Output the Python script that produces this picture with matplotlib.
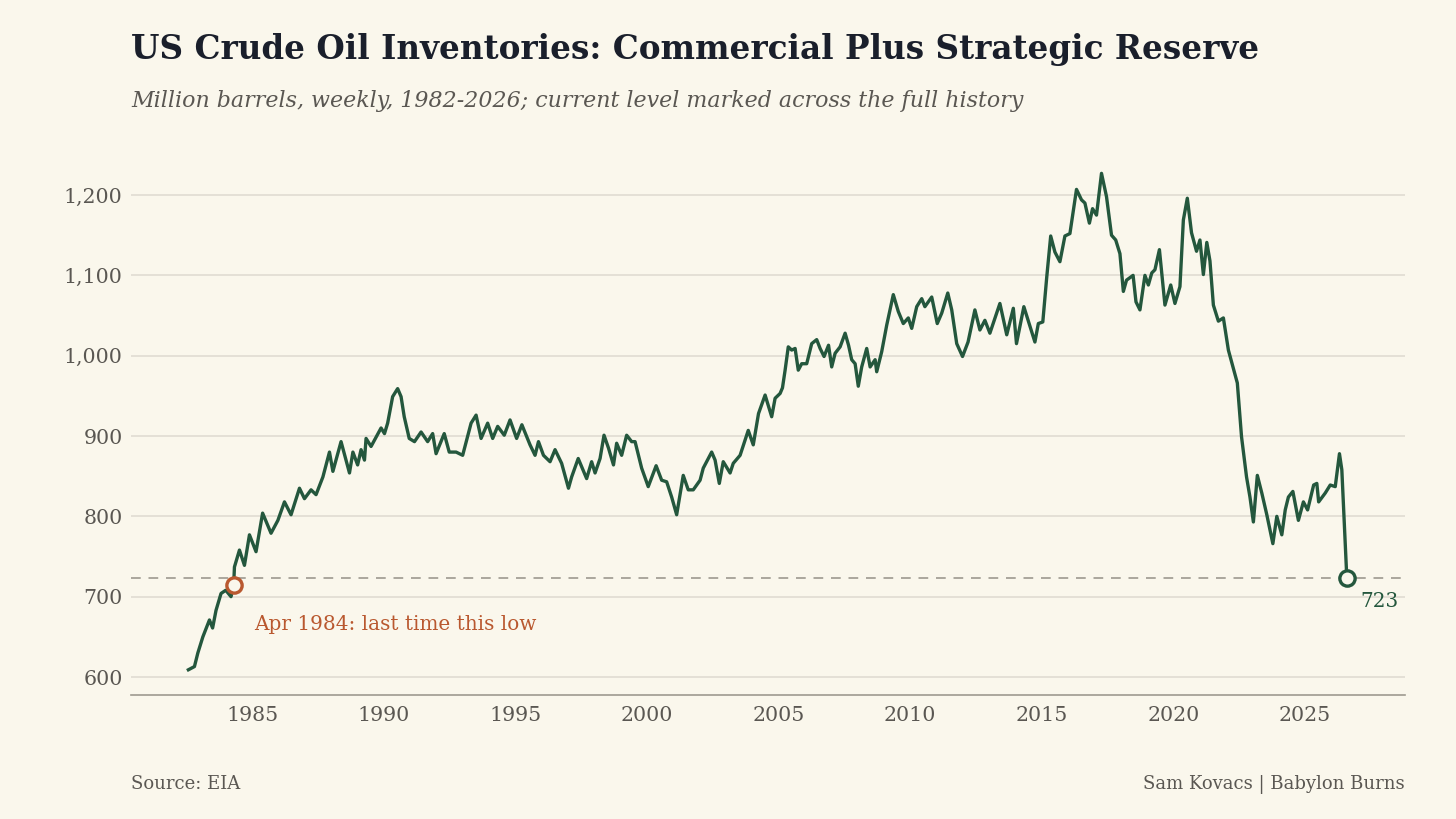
import matplotlib
matplotlib.use("Agg")
import matplotlib.pyplot as plt
import numpy as np

# ---------------- data ----------------
years = [
    1982.58, 1982.81, 1982.94, 1983.13, 1983.38, 1983.50, 1983.63, 1983.82, 1984.00, 1984.20,
    1984.30, 1984.33, 1984.52, 1984.71, 1984.90, 1985.15, 1985.40, 1985.72, 1985.98, 1986.23,
    1986.48, 1986.80, 1986.99, 1987.24, 1987.43, 1987.69, 1987.94, 1988.07, 1988.38, 1988.70,
    1988.83, 1989.01, 1989.14, 1989.27, 1989.33, 1989.52, 1989.90, 1990.03, 1990.15, 1990.34,
    1990.53, 1990.66, 1990.78, 1990.97, 1991.17, 1991.42, 1991.67, 1991.86, 1991.99, 1992.30,
    1992.49, 1992.75, 1993.00, 1993.32, 1993.51, 1993.70, 1993.95, 1994.14, 1994.33, 1994.58,
    1994.80, 1995.05, 1995.25, 1995.56, 1995.75, 1995.88, 1996.07, 1996.32, 1996.51, 1996.76,
    1997.02, 1997.14, 1997.39, 1997.71, 1997.90, 1998.03, 1998.22, 1998.37, 1998.54, 1998.73,
    1998.85, 1999.04, 1999.23, 1999.42, 1999.55, 1999.80, 2000.05, 2000.35, 2000.56, 2000.75,
    2000.94, 2001.13, 2001.38, 2001.57, 2001.76, 2002.02, 2002.14, 2002.46, 2002.59, 2002.75,
    2002.90, 2003.16, 2003.28, 2003.54, 2003.85, 2004.04, 2004.24, 2004.49, 2004.74, 2004.87,
    2005.06, 2005.15, 2005.25, 2005.37, 2005.50, 2005.63, 2005.75, 2005.88, 2006.07, 2006.26,
    2006.45, 2006.58, 2006.73, 2006.90, 2007.02, 2007.15, 2007.34, 2007.53, 2007.66, 2007.78,
    2007.91, 2008.03, 2008.16, 2008.35, 2008.48, 2008.67, 2008.73, 2008.92, 2009.11, 2009.36,
    2009.55, 2009.74, 2009.93, 2010.06, 2010.25, 2010.44, 2010.56, 2010.82, 2011.03, 2011.20,
    2011.43, 2011.58, 2011.77, 2011.99, 2012.20, 2012.46, 2012.65, 2012.84, 2013.03, 2013.41,
    2013.67, 2013.92, 2014.04, 2014.32, 2014.74, 2014.87, 2015.04, 2015.19, 2015.34, 2015.50,
    2015.69, 2015.88, 2016.07, 2016.32, 2016.51, 2016.64, 2016.81, 2016.93, 2017.08, 2017.27,
    2017.46, 2017.65, 2017.81, 2017.97, 2018.10, 2018.22, 2018.47, 2018.58, 2018.73, 2018.92,
    2019.05, 2019.18, 2019.30, 2019.47, 2019.68, 2019.90, 2020.06, 2020.25, 2020.38, 2020.53,
    2020.69, 2020.88, 2021.01, 2021.14, 2021.27, 2021.39, 2021.52, 2021.71, 2021.90, 2022.09,
    2022.28, 2022.43, 2022.59, 2022.78, 2022.91, 2023.04, 2023.19, 2023.36, 2023.55, 2023.78,
    2023.93, 2024.12, 2024.25, 2024.37, 2024.54, 2024.75, 2024.94, 2025.10, 2025.33, 2025.45,
    2025.52, 2025.77, 2025.96, 2026.15, 2026.31, 2026.40, 2026.59,
]
inventory = [
    609, 613, 630, 650, 671, 661, 683, 704, 708, 700,
    714, 737, 758, 739, 777, 756, 804, 779, 795, 818,
    802, 835, 822, 833, 827, 849, 880, 856, 893, 854,
    880, 864, 883, 870, 897, 887, 910, 903, 916, 949,
    959, 949, 924, 897, 893, 905, 893, 903, 878, 903,
    880, 880, 876, 916, 926, 897, 916, 897, 912, 901,
    920, 897, 914, 889, 876, 893, 876, 868, 883, 866,
    835, 849, 872, 847, 868, 854, 872, 901, 885, 864,
    891, 876, 901, 893, 893, 860, 837, 863, 845, 843,
    824, 802, 851, 833, 833, 845, 860, 880, 870, 841,
    868, 854, 866, 876, 907, 889, 928, 951, 924, 947,
    953, 960, 982, 1011, 1007, 1009, 982, 990, 990, 1015,
    1020, 1009, 999, 1013, 986, 1003, 1011, 1028, 1013, 995,
    990, 962, 986, 1009, 986, 995, 980, 1005, 1038, 1076,
    1055, 1040, 1047, 1034, 1061, 1071, 1061, 1073, 1040, 1053,
    1078, 1057, 1015, 999, 1017, 1057, 1032, 1044, 1028, 1065,
    1026, 1059, 1015, 1061, 1017, 1040, 1042, 1098, 1149, 1129,
    1117, 1149, 1152, 1207, 1194, 1190, 1165, 1183, 1175, 1227,
    1198, 1150, 1144, 1127, 1080, 1094, 1100, 1067, 1057, 1100,
    1088, 1103, 1107, 1132, 1063, 1088, 1065, 1086, 1169, 1196,
    1153, 1130, 1144, 1101, 1141, 1118, 1063, 1043, 1047, 1007,
    984, 966, 899, 849, 824, 793, 851, 829, 802, 766,
    800, 777, 808, 824, 831, 795, 818, 808, 839, 841,
    818, 829, 839, 837, 878, 858, 723,
]
x_ticks = [1985, 1990, 1995, 2000, 2005, 2010, 2015, 2020, 2025]
y_ticks = [600, 700, 800, 900, 1000, 1100, 1200]

title = "US Crude Oil Inventories: Commercial Plus Strategic Reserve"
subtitle = "Million barrels, weekly, 1982-2026; current level marked across the full history"
low_label = "Apr 1984: last time this low"
source = "Source: EIA"
credit = "Sam Kovacs | Babylon Burns"

# ---------------- style ----------------
BG = "#FAF7EC"
GREEN = "#24573D"
ORANGE = "#B9582F"
GRID = "#DEDAD0"
TXT = "#5A5752"
TITLE_C = "#1A1F2B"

plt.rcParams["font.family"] = ["DejaVu Serif"]

fig = plt.figure(figsize=(14.56, 8.19), dpi=100, facecolor=BG)
ax = fig.add_axes([131 / 1456, 1 - 695 / 819, (1405 - 131) / 1456, (695 - 160) / 819])
ax.set_facecolor(BG)

x = np.array(years)
y = np.array(inventory)
current = y[-1]

ax.set_xlim(1980.4, 2028.8)
ax.set_ylim(577.6, 1243.6)

for v in y_ticks:
    ax.axhline(v, color=GRID, lw=1.1, zorder=0)

ax.axhline(current, color="#AAA69C", lw=1.4, ls=(0, (5, 4)), zorder=1)

ax.plot(x, y, color=GREEN, lw=2.4, solid_joinstyle="round", zorder=3)

# last time at or below current level
earlier = np.where(y[:-1] <= current)[0]
idx = earlier[-1]
ax.plot(x[idx], y[idx], "o", ms=11, mfc=BG, mec=ORANGE, mew=2.4, zorder=5)
ax.annotate(low_label, (x[idx], y[idx]), xytext=(15, -28), textcoords="offset points",
            ha="left", va="center", fontsize=14.4, color=ORANGE)

ax.plot(x[-1], current, "o", ms=11, mfc=BG, mec=GREEN, mew=2.4, zorder=5)
ax.annotate(f"{current:.0f}", (x[-1], current), xytext=(10, -17), textcoords="offset points",
            ha="left", va="center", fontsize=14.4, color=GREEN)

ax.set_xticks(x_ticks)
ax.set_xticklabels([str(t) for t in x_ticks])
ax.set_yticks(y_ticks)
ax.set_yticklabels([f"{t:,}" for t in y_ticks])
ax.tick_params(axis="both", length=0, labelsize=14.8, labelcolor=TXT)
ax.tick_params(axis="x", pad=8)
ax.tick_params(axis="y", pad=6)

for s in ["top", "right", "left"]:
    ax.spines[s].set_visible(False)
ax.spines["bottom"].set_color("#9E9A90")
ax.spines["bottom"].set_linewidth(1.2)

fig.text(131 / 1456, 1 - 50 / 819, title, fontsize=23.5, fontweight="bold", color=TITLE_C,
         ha="left", va="center")
fig.text(131 / 1456, 1 - 101 / 819, subtitle, fontsize=15.9, style="italic", color=TXT,
         ha="left", va="center")
fig.text(131 / 1456, 1 - 784 / 819, source, fontsize=13, color=TXT, ha="left", va="center")
fig.text(1405 / 1456, 1 - 784 / 819, credit, fontsize=13, color=TXT, ha="right", va="center")

fig.savefig("out.png", dpi=100, facecolor=BG)
